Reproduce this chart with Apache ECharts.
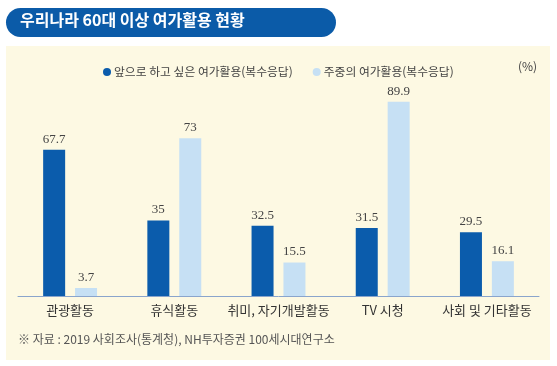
<!DOCTYPE html>
<html><head><meta charset="utf-8">
<script src="https://cdn.jsdelivr.net/npm/echarts@6/dist/echarts.min.js"></script>
<style>html,body{margin:0;padding:0;background:#fff}#c{width:557px;height:366px}</style>
</head><body><div id="c"></div>
<script>
const categories = ['관광활동', '휴식활동', '취미, 자기개발활동', 'TV 시청', '사회 및 기타활동'];
const seriesNames = ['앞으로 하고 싶은 여가활용(복수응답)', '주중의 여가활용(복수응답)'];
const wantValues = [67.7, 35, 32.5, 31.5, 29.5];
const weekdayValues = [3.7, 73, 15.5, 89.9, 16.1];
const titleText = '우리나라 60대 이상 여가활용 현황';
const unitText = '(%)';
const sourceText = '※ 자료 : 2019 사회조사(통계청), NH투자증권 100세시대연구소';

const KR = '"Noto Sans CJK KR", "Noto Sans", sans-serif';
const chart = echarts.init(document.getElementById('c'), null, {renderer: 'canvas'});
const labelStyle = {show: true, position: 'top', distance: 4, fontFamily: '"Liberation Serif", serif', fontSize: 13, color: '#444'};
chart.setOption({
  animation: false,
  backgroundColor: '#ffffff',
  graphic: [
    {type: 'rect', z: -10, shape: {x: 6, y: 46, width: 544, height: 314}, style: {fill: '#fdf9e3'}},
    {type: 'rect', z: -10, shape: {x: 6, y: 8, width: 330, height: 29, r: 14.5}, style: {fill: '#0b5ba8'}},
    {type: 'text', left: 20, top: 12, style: {text: titleText, fill: '#fff', font: 'bold 16px ' + KR}},
    {type: 'text', left: 518, top: 60, style: {text: unitText, fill: '#444', font: '12px ' + KR}},
    {type: 'text', left: 18, top: 333, style: {text: sourceText, fill: '#555', font: '12px ' + KR}}
  ],
  legend: {
    left: 98, top: 61, itemWidth: 8, itemHeight: 8, itemGap: 20, icon: 'circle',
    textStyle: {fontFamily: KR, fontSize: 11.8, color: '#444', padding: [0, 0, 0, -2]},
    data: seriesNames
  },
  grid: {left: 18, right: 18, top: 80, bottom: 70},
  xAxis: {
    type: 'category', data: categories,
    axisLine: {lineStyle: {color: '#8aa5cc', width: 1}},
    axisTick: {show: false},
    axisLabel: {interval: 0, fontFamily: KR, fontSize: 13, color: '#333', margin: 8}
  },
  yAxis: {type: 'value', min: 0, max: 100, show: false, splitLine: {show: false}},
  series: [
    {name: seriesNames[0], type: 'bar', data: wantValues, barWidth: 22, barGap: '45%',
     itemStyle: {color: '#0b5cac'}, label: labelStyle},
    {name: seriesNames[1], type: 'bar', data: weekdayValues, barWidth: 22,
     itemStyle: {color: '#c6e0f4'}, label: labelStyle}
  ]
});
</script></body></html>
